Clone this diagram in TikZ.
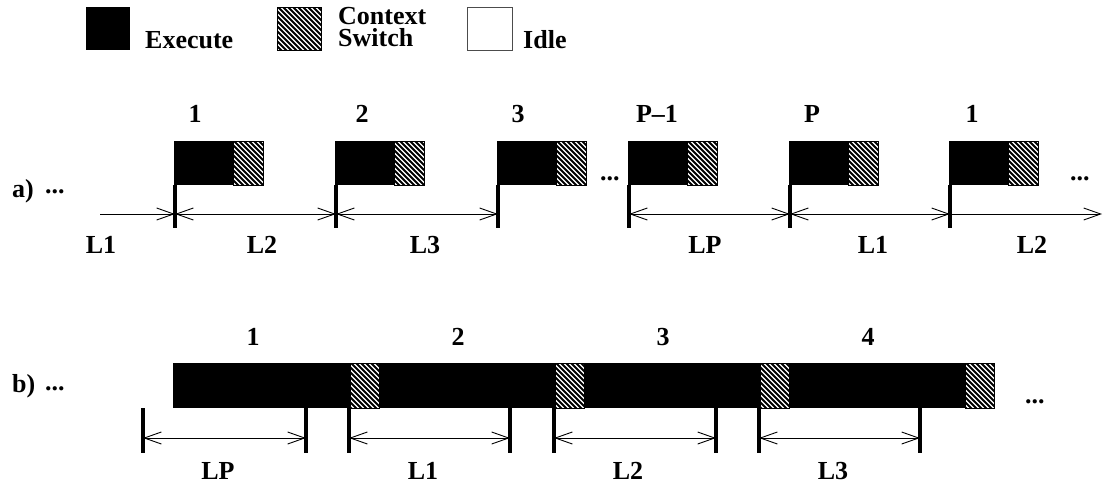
\documentclass[tikz,border=0pt]{standalone}
\usepackage{fontspec}
\setmainfont{Liberation Serif}
\usetikzlibrary{arrows.meta}
\newcommand{\hatchrect}[4]{%
  \begin{scope}
    \clip (#1,#2) rectangle (#3,#4);
    \fill[white] (#1,#2) rectangle (#3,#4);
    \foreach \k in {0,5,...,120} \draw[line width=1.8pt] (#1-60+\k,#2-6) -- ++(60,60);
  \end{scope}
  \draw[line width=0.8pt] (#1,#2) rectangle (#3,#4);}
\begin{document}
\begin{tikzpicture}[x=1pt,y=-1pt,
  lbl/.style={font=\fontsize{26}{26}\selectfont\bfseries, inner sep=0pt, anchor=base},
  lblw/.style={lbl, anchor=base west},
  dim/.style={line width=0.9pt, {Straight Barb[length=17pt,width=12pt]}-{Straight Barb[length=17pt,width=12pt]}},
  dimr/.style={line width=0.9pt, -{Straight Barb[length=17pt,width=12pt]}},
  polea/.style={line width=4pt},
  poleb/.style={line width=3.2pt}]
\useasboundingbox (0,0) rectangle (1110,483);

% legend
\fill (86,7) rectangle (130,50);
\node[lblw] (lexec) at (145,48) {Execute};
\hatchrect{277}{7}{321}{50}
\node[lbl, anchor=north west, align=left, font=\fontsize{26}{22}\selectfont\bfseries] (lctx) at (338,7.5) {Context\\Switch};
\draw[line width=0.6pt, black!70] (467,7) rectangle (512,50);
\node[lblw] (lidle) at (523,48) {Idle};

% row a
\node[lblw] (la) at (12,197) {a)};
\node[lblw] (dA1) at (45,193) {...};
\node[lblw] (dA2) at (600,180) {...};
\node[lblw] (dA3) at (1070,180) {...};
\foreach \s/\n in {174/1,335/2,497/3,628/4,789/5,949/6}{
  \fill (\s,141) rectangle (\s+59,185);
  \hatchrect{\s+59}{141}{\s+89}{185}
  \coordinate (pt\n) at (\s+1,185);
  \coordinate (pb\n) at (\s+1,228);
  \coordinate (pa\n) at (\s+1,214);
  \draw[polea] (pt\n) -- (pb\n);
}
\coordinate (pa0) at (100,214);
\coordinate (pa7) at (1102,214);
\draw[dimr] (pa0) -- (pa1);
\draw[dim] (pa1) -- (pa2);
\draw[dim] (pa2) -- (pa3);
\draw[dim] (pa4) -- (pa5);
\draw[dim] (pa5) -- (pa6);
\draw[dimr] (pa6) -- (pa7);
\node[lbl] (na1) at (195,122) {1};
\node[lbl] (na2) at (362,122) {2};
\node[lbl] (na3) at (518,122) {3};
\node[lbl] (na4) at (657,122) {P--1};
\node[lbl] (na5) at (812,122) {P};
\node[lbl] (na6) at (972,122) {1};
\node[lbl] (ma1) at (101,253) {L1};
\node[lbl] (ma2) at (262,253) {L2};
\node[lbl] (ma3) at (425,253) {L3};
\node[lbl] (ma4) at (705,253) {LP};
\node[lbl] (ma5) at (873,253) {L1};
\node[lbl] (ma6) at (1032,253) {L2};

% row b
\node[lblw] (lb) at (12,392) {b)};
\node[lblw] (dB1) at (45,390) {...};
\node[lblw] (dB2) at (1025,403) {...};
\fill (173,363) rectangle (994,408);
\foreach \h in {350,555,760,965} { \hatchrect{\h}{363}{\h+29}{408} }
\foreach \x/\n in {143/1,306/2,349/3,510/4,554/5,716/6,759/7,920/8}{
  \coordinate (qt\n) at (\x,408);
  \coordinate (qb\n) at (\x,453);
  \coordinate (qa\n) at (\x,438);
  \draw[poleb] (qt\n) -- (qb\n);
}
\draw[dim] (qa1) -- (qa2);
\draw[dim] (qa3) -- (qa4);
\draw[dim] (qa5) -- (qa6);
\draw[dim] (qa7) -- (qa8);
\node[lbl] (nb1) at (253,345) {1};
\node[lbl] (nb2) at (458,345) {2};
\node[lbl] (nb3) at (663,345) {3};
\node[lbl] (nb4) at (868,345) {4};
\node[lbl] (mb1) at (218,479) {LP};
\node[lbl] (mb2) at (423,479) {L1};
\node[lbl] (mb3) at (628,479) {L2};
\node[lbl] (mb4) at (833,479) {L3};
\end{tikzpicture}
\end{document}
